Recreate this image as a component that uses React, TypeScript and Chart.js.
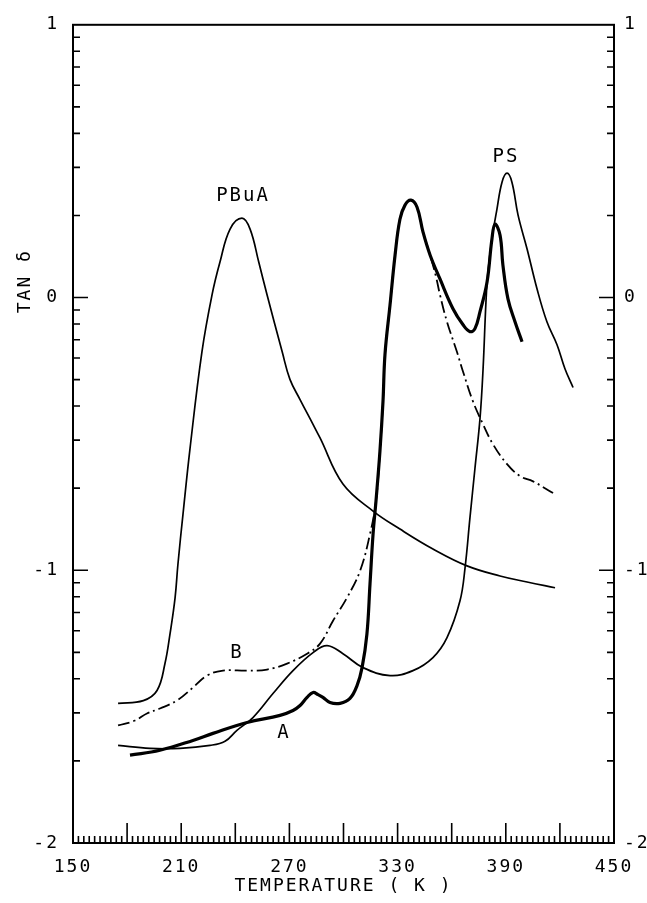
import React, { useEffect, useRef } from "react";
import { Chart, registerables } from "chart.js";

Chart.register(...registerables);

// Temperature (K) and log10(tan δ)
const pbuaTemp = [175.0, 189.0, 196.6, 201.0, 203.8, 206.6, 208.2, 211.0, 214.9, 221.5, 227.1, 231.5, 237.1, 243.7, 248.2, 253.0, 257.6, 266.0, 270.3, 275.9, 283.1, 287.0, 299.7, 316.4, 331.3, 349.6, 368.5, 386.8, 401.8, 417.3];
const pbuaLog = [-1.488, -1.478, -1.441, -1.342, -1.233, -1.101, -0.977, -0.794, -0.553, -0.199, 0.010, 0.130, 0.251, 0.291, 0.251, 0.130, 0.010, -0.199, -0.300, -0.374, -0.465, -0.515, -0.684, -0.783, -0.849, -0.922, -0.984, -1.021, -1.043, -1.064];

const psTemp = [175.0, 192.7, 209.3, 226.0, 234.3, 240.9, 249.8, 260.9, 272.0, 283.1, 290.9, 299.7, 310.8, 325.8, 338.5, 349.6, 357.4, 364.6, 367.4, 370.1, 372.9, 375.7, 377.4, 379.0, 380.1, 382.3, 385.1, 387.9, 390.7, 393.4, 396.8, 401.8, 407.3, 412.8, 418.4, 422.8, 427.3];
const psLog = [-1.642, -1.653, -1.653, -1.642, -1.627, -1.587, -1.540, -1.452, -1.368, -1.302, -1.276, -1.306, -1.357, -1.386, -1.368, -1.320, -1.247, -1.112, -0.991, -0.809, -0.626, -0.443, -0.261, -0.016, 0.094, 0.214, 0.324, 0.423, 0.456, 0.423, 0.302, 0.178, 0.032, -0.089, -0.173, -0.261, -0.330];

const aTemp = [181.6, 198.2, 216.5, 227.6, 246.5, 264.8, 272.0, 275.9, 279.8, 283.1, 285.9, 288.6, 292.5, 298.1, 303.6, 307.5, 310.3, 313.0, 314.7, 316.4, 318.0, 320.2, 321.9, 323.0, 325.8, 328.6, 331.3, 334.1, 337.4, 340.8, 344.1, 348.0, 353.5, 360.7, 366.3, 370.1, 372.9, 375.7, 379.6, 382.3, 384.0, 386.8, 388.4, 391.2, 395.1, 399.0];
const aLog = [-1.678, -1.660, -1.624, -1.598, -1.558, -1.532, -1.514, -1.496, -1.466, -1.448, -1.456, -1.466, -1.485, -1.488, -1.470, -1.423, -1.357, -1.233, -1.050, -0.867, -0.747, -0.564, -0.381, -0.209, -0.027, 0.156, 0.287, 0.339, 0.357, 0.331, 0.240, 0.156, 0.068, -0.041, -0.100, -0.125, -0.114, -0.052, 0.057, 0.214, 0.269, 0.229, 0.119, -0.005, -0.089, -0.162];

const bTemp = [175.0, 184.4, 191.0, 198.2, 207.7, 216.5, 224.3, 233.2, 246.5, 257.6, 268.7, 279.8, 287.0, 294.2, 301.9, 309.2, 314.7, 318.0, 320.2, 321.9, 323.0, 325.8, 328.6, 331.3, 334.1, 337.4, 340.8, 344.1, 348.0, 351.3, 353.5, 357.4, 362.9, 366.3, 371.8, 377.4, 382.9, 390.7, 397.9, 405.1, 416.2];
const bLog = [-1.569, -1.551, -1.525, -1.507, -1.477, -1.430, -1.386, -1.368, -1.368, -1.364, -1.342, -1.306, -1.269, -1.185, -1.101, -1.002, -0.867, -0.747, -0.564, -0.381, -0.209, -0.027, 0.156, 0.287, 0.339, 0.357, 0.331, 0.240, 0.156, 0.076, 0.010, -0.089, -0.199, -0.272, -0.381, -0.465, -0.538, -0.611, -0.655, -0.674, -0.717];

const xTickValues = [150, 210, 270, 330, 390, 450];
const yTickValues = [-2, -1, 0, 1];

const curveLabels = ["PBuA", "PS", "B", "A"];
const curveLabelTemp = [244.3, 390.1, 240.9, 267.0];
const curveLabelLog = [0.372, 0.514, -1.302, -1.598];

const FONT = "'DejaVu Sans Mono', monospace";

const pts = (xs: number[], ys: number[]) => xs.map((x, i) => ({ x, y: ys[i] }));

const framePlugin = {
  id: "frame",
  beforeDraw(chart: any) {
    chart.ctx.letterSpacing = "2px";
  },
  afterDraw(chart: any) {
    const { ctx, chartArea: a, scales } = chart;
    const xs = scales.x;
    const ys = scales.y;
    ctx.save();
    ctx.strokeStyle = "#000";
    ctx.lineWidth = 2;
    ctx.strokeRect(a.left, a.top, a.right - a.left, a.bottom - a.top);
    ctx.lineWidth = 1.6;
    ctx.beginPath();
    for (let t = 153; t < 450; t += 3) {
      const px = xs.getPixelForValue(t);
      const len = t % 30 === 0 ? 20 : 7;
      ctx.moveTo(px, a.bottom);
      ctx.lineTo(px, a.bottom - len);
    }
    for (let d = -2; d <= 0; d++) {
      for (let k = 1; k <= 9; k++) {
        if (d === -2 && k === 1) continue;
        const py = ys.getPixelForValue(d + Math.log10(k));
        const len = k === 1 ? 15 : 7;
        ctx.moveTo(a.left, py);
        ctx.lineTo(a.left + len, py);
        ctx.moveTo(a.right, py);
        ctx.lineTo(a.right - len, py);
      }
    }
    ctx.stroke();

    ctx.fillStyle = "#000";
    ctx.font = `19px ${FONT}`;
    ctx.textAlign = "center";
    ctx.textBaseline = "middle";
    curveLabels.forEach((lab, i) => {
      ctx.fillText(lab, xs.getPixelForValue(curveLabelTemp[i]), ys.getPixelForValue(curveLabelLog[i]));
    });

    ctx.font = `18px ${FONT}`;
    ctx.translate(25, ys.getPixelForValue(0.06));
    ctx.rotate(-Math.PI / 2);
    ctx.fillText("TAN δ", 0, 0);
    ctx.restore();
  },
};

export default function App() {
  const canvasRef = useRef<HTMLCanvasElement | null>(null);

  useEffect(() => {
    if (!canvasRef.current) return;
    const line = { borderColor: "#000", pointRadius: 0, fill: false, tension: 0.4 };
    const chart = new Chart(canvasRef.current, {
      type: "line",
      data: {
        datasets: [
          { label: "PBuA", data: pts(pbuaTemp, pbuaLog), borderWidth: 1.7, ...line },
          { label: "PS", data: pts(psTemp, psLog), borderWidth: 1.7, ...line },
          { label: "A", data: pts(aTemp, aLog), borderWidth: 3.2, ...line },
          { label: "B", data: pts(bTemp, bLog), borderWidth: 1.8, borderDash: [12, 4, 2, 4], ...line },
        ],
      },
      options: {
        animation: false,
        responsive: false,
        layout: { padding: { top: 22, left: 0, right: 0, bottom: 0 } },
        plugins: { legend: { display: false }, tooltip: { enabled: false }, title: { display: false } },
        scales: {
          x: {
            type: "linear",
            position: "bottom",
            min: 150,
            max: 450,
            grid: { display: false, drawTicks: false },
            border: { display: false },
            afterFit: (s: any) => { s.height = 60; },
            afterBuildTicks: (s: any) => { s.ticks = xTickValues.map((v) => ({ value: v })); },
            ticks: { autoSkip: false, maxRotation: 0, padding: 14, color: "#000", font: { family: FONT, size: 18 }, callback: (v: any) => String(v) },
            title: { display: true, text: "TEMPERATURE ( K )", color: "#000", font: { family: FONT, size: 18 }, padding: { top: 0, bottom: 6 } },
          },
          y: {
            type: "linear",
            position: "left",
            min: -2,
            max: 1,
            grid: { display: false, drawTicks: false },
            border: { display: false },
            afterFit: (s: any) => { s.width = 73; },
            afterBuildTicks: (s: any) => { s.ticks = yTickValues.map((v) => ({ value: v })); },
            ticks: { autoSkip: false, padding: 14, color: "#000", font: { family: FONT, size: 18 }, callback: (v: any) => String(v) },
          },
          y2: {
            type: "linear",
            position: "right",
            min: -2,
            max: 1,
            grid: { display: false, drawTicks: false },
            border: { display: false },
            afterFit: (s: any) => { s.width = 33; },
            afterBuildTicks: (s: any) => { s.ticks = yTickValues.map((v) => ({ value: v })); },
            ticks: { autoSkip: false, padding: 10, color: "#000", font: { family: FONT, size: 18 }, callback: (v: any) => String(v) },
          },
        },
      },
      plugins: [framePlugin],
    });
    return () => chart.destroy();
  }, []);

  return (
    <div style={{ position: "absolute", left: 0, top: 0, width: 647, height: 903, background: "#fff" }}>
      <canvas ref={canvasRef} width={647} height={903} style={{ display: "block" }} />
    </div>
  );
}
